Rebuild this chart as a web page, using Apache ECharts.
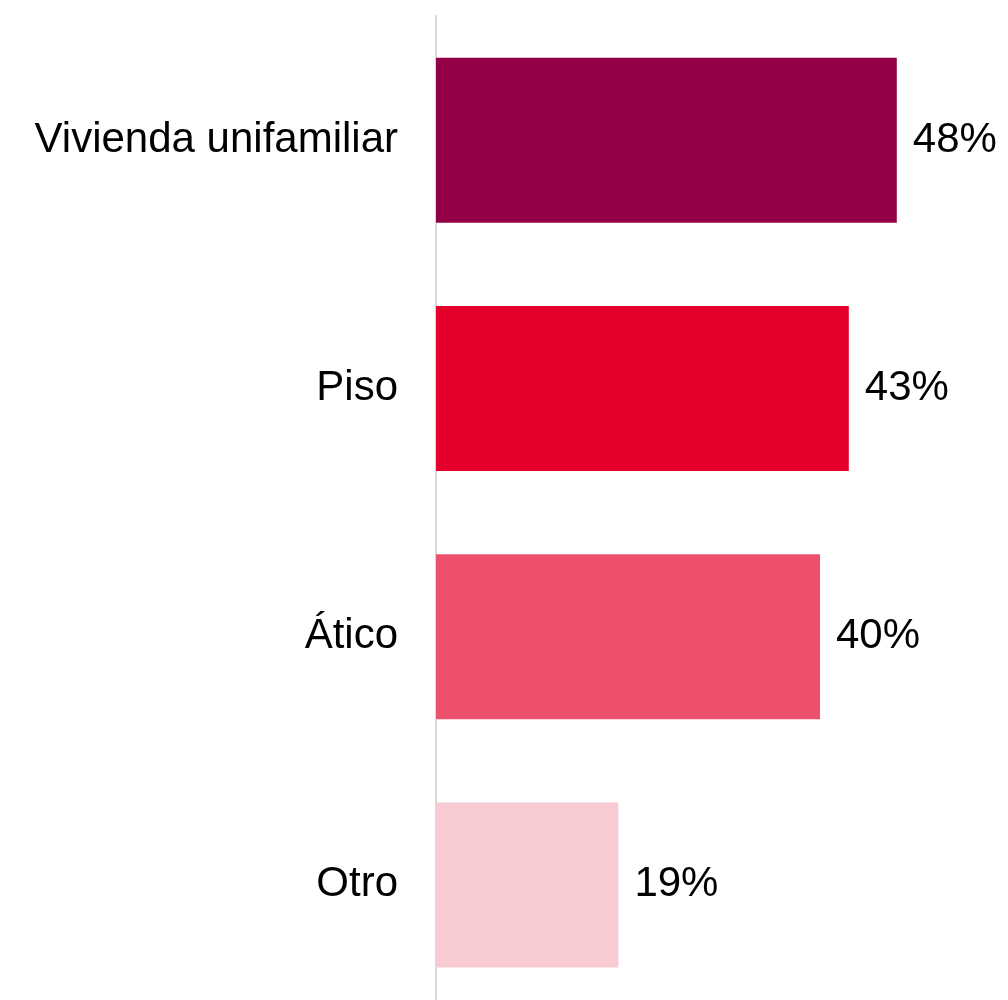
<!DOCTYPE html>
<html>
<head>
<meta charset="utf-8">
<script src="https://cdn.jsdelivr.net/npm/echarts@6/dist/echarts.min.js"></script>
<style>
  html, body { margin: 0; padding: 0; background: #fff; }
  #chart { width: 1008px; height: 1000px; }
</style>
</head>
<body>
<div id="chart"></div>
<script>
const categories = ['Vivienda unifamiliar', 'Piso', 'Ático', 'Otro']
const values = [48, 43, 40, 19]
const barColors = ['#930045', '#e4002b', '#ec506d', '#f8cad2']

const chart = echarts.init(document.getElementById('chart'))

chart.setOption({
  animation: false,
  grid: { left: 436, top: 16, width: 480, height: 993, outerBoundsMode: 'none', containLabel: false },
  xAxis: {
    type: 'value',
    min: 0,
    max: 50,
    show: false
  },
  yAxis: {
    type: 'category',
    data: categories,
    inverse: true,
    axisLine: { show: true, lineStyle: { color: '#d9d9d9', width: 2 } },
    axisTick: { show: false },
    axisLabel: {
      color: '#000',
      fontSize: 42,
      fontFamily: 'Liberation Sans, Arial, sans-serif',
      margin: 38
    }
  },
  series: [{
    type: 'bar',
    barWidth: 165,
    data: values.map((v, i) => ({ value: v, itemStyle: { color: barColors[i] } })),
    label: {
      show: true,
      position: 'right',
      distance: 16,
      color: '#000',
      fontSize: 42,
      fontFamily: 'Liberation Sans, Arial, sans-serif',
      formatter: p => p.value + '%'
    }
  }]
})
</script>
</body>
</html>
